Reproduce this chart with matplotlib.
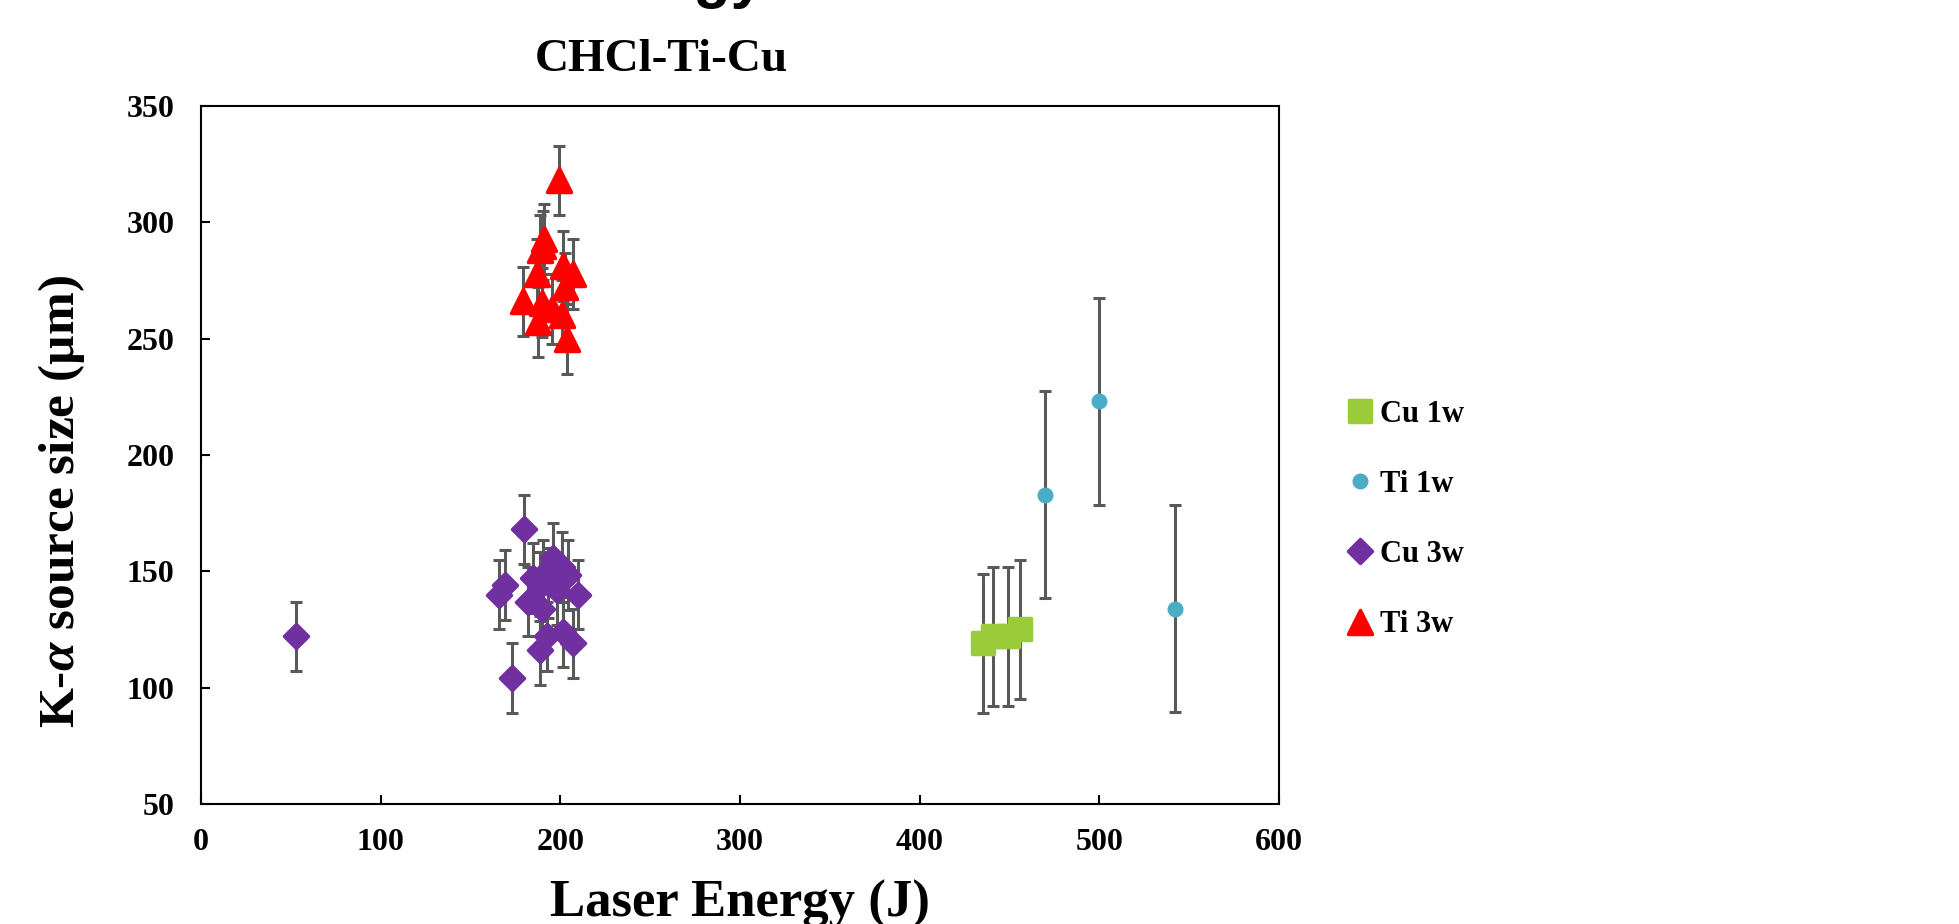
import matplotlib
matplotlib.use("Agg")
import matplotlib.pyplot as plt
from matplotlib.markers import MarkerStyle

plt.rcParams['font.family'] = ['Liberation Serif', 'DejaVu Serif']
plt.rcParams['font.weight'] = 'bold'
plt.rcParams['mathtext.fontset'] = 'custom'
plt.rcParams['mathtext.it'] = 'Liberation Serif:italic:bold'
plt.rcParams['mathtext.rm'] = 'Liberation Serif:bold'

# Cu 1w
cu1_x = [435, 441, 449, 456]
cu1_y = [119, 122, 122, 125]
cu1_err = [30, 30, 30, 30]

# Ti 1w
ti1_x = [470, 500, 542]
ti1_y = [183, 223, 134]
ti1_err = [44.5, 44.5, 44.5]

# Cu 3w
cu3_x = [53, 166, 169, 173, 180, 182, 185, 188.6, 189.6, 190.5, 188.6, 192.4,
         196, 200.7, 201.6, 204.4, 207.2, 210, 193, 198]
cu3_y = [122, 140, 144, 104, 168, 137, 147, 143.5, 134, 148.5, 116, 122,
         155.6, 152, 124, 148.5, 119, 140, 145, 142]
cu3_err = [15] * len(cu3_x)

# Ti 3w
ti3_x = [179.4, 186.8, 187.7, 188.6, 189.6, 191, 190.5, 195.2, 199.2, 200.7,
         201.6, 202.6, 203.5, 207.2]
ti3_y = [266, 278, 257, 288, 265.5, 293, 290, 262.8, 318, 260,
         281.3, 272, 250, 277.8]
ti3_err = [15] * len(ti3_x)

x_ticks = [0, 100, 200, 300, 400, 500, 600]
y_ticks = [50, 100, 150, 200, 250, 300, 350]

series = [
    ("Cu 1w", cu1_x, cu1_y, cu1_err, 's', '#9ACB3A', 15.5, 2.5),
    ("Ti 1w", ti1_x, ti1_y, ti1_err, 'o', '#4BACC6', 11.5, 0.0),
    ("Cu 3w", cu3_x, cu3_y, cu3_err, 'D', '#7030A0', 12.5, 2.5),
    ("Ti 3w", ti3_x, ti3_y, ti3_err, '^', '#FF0000', 17.0, 2.5),
]

fig = plt.figure(figsize=(19.59, 9.24), dpi=100)
ax = fig.add_axes([0.1026, 0.1299, 0.5503, 0.7554])

for name, xs, ys, errs, mk, col, ms, mew in series:
    ax.errorbar(xs, ys, yerr=errs, fmt='none', ecolor='#595959',
                elinewidth=2.2, capsize=4.3, capthick=2.2, zorder=2)
    ax.plot(xs, ys, linestyle='none',
            marker=MarkerStyle(mk, joinstyle='round'),
            markersize=ms, markerfacecolor=col, markeredgecolor=col,
            markeredgewidth=mew, label=name, zorder=3)

ax.set_xlim(0, 600)
ax.set_ylim(50, 350)
ax.set_xticks(x_ticks)
ax.set_yticks(y_ticks)
ax.tick_params(direction='in', length=6.5, width=1.5, labelsize=23)
ax.tick_params(axis='x', pad=17)
ax.tick_params(axis='y', pad=19)
for sp in ax.spines.values():
    sp.set_linewidth(1.5)
    sp.set_color('black')

fig.text(0.3777, 0.0076, 'Laser Energy (J)', ha='center', va='baseline',
         fontsize=38, fontweight='bold')
fig.text(0.0316, 0.4567, r'K-$\alpha$ source size (µm)', rotation=90,
         ha='center', va='center', fontsize=37, fontweight='bold')
fig.text(0.3374, 0.9232, 'CHCl-Ti-Cu', ha='center', va='baseline',
         fontsize=34, fontweight='bold')
# main title sits mostly above the canvas, only the descenders show
fig.text(0.3905, 1.004, 'K-α Source Size vs Laser Energy', ha='right',
         va='baseline', fontsize=44, fontweight='bold',
         family=['Liberation Sans', 'DejaVu Sans'])

ax.legend(loc='center left', bbox_to_anchor=(0.6887, 0.4378),
          bbox_transform=fig.transFigure, frameon=False, fontsize=22,
          numpoints=1, handlelength=0.7, handletextpad=0.3,
          labelspacing=1.35, borderpad=0, borderaxespad=0)

fig.savefig('out.png', dpi=100)
